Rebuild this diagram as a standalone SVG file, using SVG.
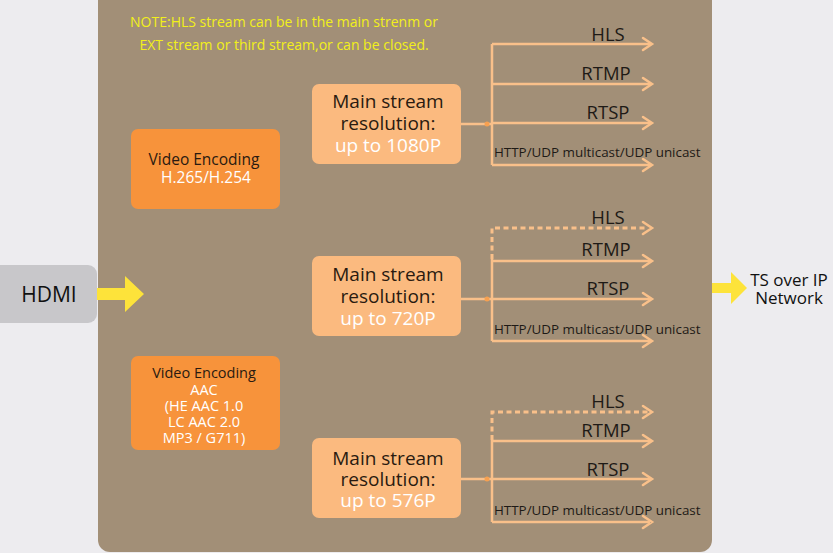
<svg xmlns="http://www.w3.org/2000/svg" width="833" height="553" viewBox="0 0 833 553">
<defs>
<style>
text{font-family:"Open Sans","Noto Sans","Liberation Sans",sans-serif;}
.note{fill:#F2F01A;font-size:14px;text-anchor:middle;}
.enc{fill:#F7933B;}
.ms{fill:#FBBA7F;}
.dk{fill:#2A1A10;}
.wh{fill:#FFFFFF;}
.encT{font-size:15.5px;text-anchor:middle;}
.encS{font-size:14.5px;text-anchor:middle;}
.msT{font-size:19px;text-anchor:middle;}
.lab{fill:#1E1A16;font-size:18.5px;text-anchor:middle;}
.labs{fill:#1E1A16;font-size:13.4px;}
.ln{stroke:#F9C08A;stroke-width:2.5;fill:none;}
.dot{stroke:#F9C08A;stroke-width:3;fill:none;stroke-dasharray:5 3.5;}
.ah{stroke:#F9C08A;stroke-width:2.5;fill:none;stroke-linecap:round;}
.yel{fill:#FDE33A;}
</style>
</defs>
<rect x="0" y="0" width="833" height="553" fill="#EDECEF"/>
<g id="panel"><rect x="98" y="-12" width="614" height="564" rx="12" fill="#A28F77"/></g>
<g id="note">
<text class="note" x="284" y="27">NOTE:HLS stream can be in the main strenm or</text>
<text class="note" x="284" y="50">EXT stream or third stream,or can be closed.</text>
</g>
<g id="hdmi">
<rect x="-10" y="265" width="107" height="58" rx="9" fill="#C8C7CA"/>
<text x="49" y="302" font-size="21" text-anchor="middle" fill="#111">HDMI</text>
</g>
<g id="ts">
<text x="789" y="286" font-size="17" text-anchor="middle" fill="#111">TS over IP</text>
<text x="789" y="304" font-size="17" text-anchor="middle" fill="#111">Network</text>
</g>
<g id="enc1">
<rect class="enc" x="131" y="129" width="149" height="80" rx="7"/>
<text class="encT dk" x="204" y="165">Video Encoding</text>
<text class="encT wh" x="206" y="183">H.265/H.254</text>
</g>
<g id="enc2">
<rect class="enc" x="131" y="356" width="149" height="94" rx="7"/>
<text class="encS dk" x="204" y="378">Video Encoding</text>
<text class="encS wh" x="204" y="395">AAC</text>
<text class="encS wh" x="204" y="411">(HE AAC 1.0</text>
<text class="encS wh" x="204" y="427">LC AAC 2.0</text>
<text class="encS wh" x="204" y="443">MP3 / G711)</text>
</g>
<g id="ms1">
<rect class="ms" x="312" y="84" width="149" height="80" rx="7"/>
<text class="msT dk" x="388" y="108">Main stream</text>
<text class="msT dk" x="388" y="130">resolution:</text>
<text class="msT wh" x="388" y="152">up to 1080P</text>
</g>
<g id="ms2">
<rect class="ms" x="312" y="256" width="149" height="80" rx="7"/>
<text class="msT dk" x="388" y="281">Main stream</text>
<text class="msT dk" x="388" y="303">resolution:</text>
<text class="msT wh" x="388" y="325">up to 720P</text>
</g>
<g id="ms3">
<rect class="ms" x="312" y="438" width="149" height="80" rx="7"/>
<text class="msT dk" x="388" y="465">Main stream</text>
<text class="msT dk" x="388" y="486">resolution:</text>
<text class="msT wh" x="388" y="507">up to 576P</text>
</g>
<g id="labels">
<text class="lab" x="608" y="41">HLS</text>
<text class="lab" x="606" y="80">RTMP</text>
<text class="lab" x="608" y="119">RTSP</text>
<text class="labs" x="494" y="157">HTTP/UDP multicast/UDP unicast</text>
<text class="lab" x="608" y="224">HLS</text>
<text class="lab" x="606" y="256">RTMP</text>
<text class="lab" x="608" y="295">RTSP</text>
<text class="labs" x="494" y="334">HTTP/UDP multicast/UDP unicast</text>
<text class="lab" x="608" y="408">HLS</text>
<text class="lab" x="606" y="437">RTMP</text>
<text class="lab" x="608" y="476">RTSP</text>
<text class="labs" x="494" y="515">HTTP/UDP multicast/UDP unicast</text>
</g>
<g id="connectors">
<polygon class="yel" points="97,288 125,288 125,276 144,294 125,312 125,300 97,300"/>
<polygon class="yel" points="712,283 731,283 731,272 747,288 731,304 731,293 712,293"/>
<path class="ln" d="M461 124H492M492 44V165M492 44H650M492 84H650M492 123H650M492 165H650"/>
<circle cx="487" cy="124" r="2.5" fill="#F7A050"/>
<path class="ah" d="M643 38L652 44L643 50M643 78L652 84L643 90M643 117L652 123L643 129M643 159L652 165L643 171"/>
<path class="dot" d="M492 259V228H648"/>
<path class="ln" d="M461 299H492M492 259V341M492 261H650M492 299H650M492 341H650"/>
<circle cx="487" cy="299" r="2.5" fill="#F7A050"/>
<path class="ah" d="M643 222L652 228L643 234M643 255L652 261L643 267M643 293L652 299L643 305M643 335L652 341L643 347"/>
<path class="dot" d="M492 440V412H648"/>
<path class="ln" d="M461 479H492M492 440V522M492 441H650M492 479H650M492 522H650"/>
<circle cx="487" cy="479" r="2.5" fill="#F7A050"/>
<path class="ah" d="M643 406L652 412L643 418M643 435L652 441L643 447M643 473L652 479L643 485M643 516L652 522L643 528"/>
</g>
</svg>
